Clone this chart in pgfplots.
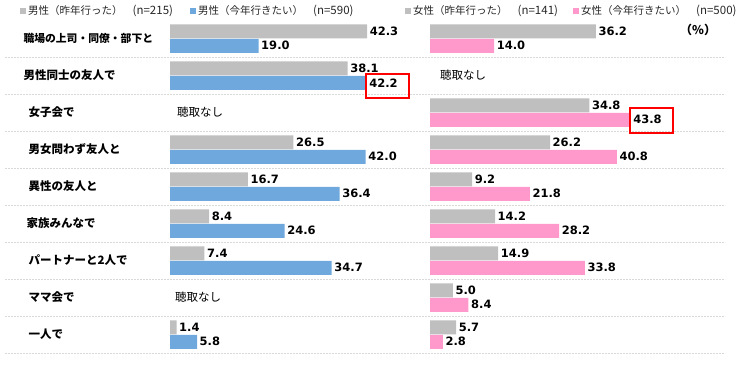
\documentclass[border=0pt]{standalone}
\usepackage{fontspec}
\setmainfont{Noto Sans CJK JP}
\newfontfamily\numfont{DejaVu Sans}
\usepackage{pgfplots}
\pgfplotsset{compat=1.18}
\definecolor{cgray}{HTML}{BFBFBF}
\definecolor{cblue}{HTML}{6FA8DC}
\definecolor{cpink}{HTML}{FF99CC}
\definecolor{csep}{HTML}{D9D9D9}
\pgfplotsset{panel/.style={hide axis, clip=false, xmin=0, xmax=55, ymin=0.5, ymax=9.5, y=37pt,
  anchor=south west, point meta=x,
  nodes near coords={\pgfmathprintnumber[fixed,fixed zerofill,precision=1,assume math mode=true]{\pgfplotspointmeta}},
  every node near coord/.append style={font=\numfont\bfseries\fontsize{11.5}{13}\selectfont, text=black, inner xsep=2.5pt}},
  top/.style={xbar, draw=none, bar width=14pt, bar shift=7.25pt, every node near coord/.append style={yshift=7.25pt}},
  bot/.style={xbar, draw=none, bar width=14pt, bar shift=-7.25pt, every node near coord/.append style={yshift=-7.25pt}}}
\newcommand\nn[1]{{\fontsize{11.5}{12}\selectfont #1}}
\begin{document}
\begin{tikzpicture}[x=1pt,y=1pt]
\path[use as bounding box] (0,0) rectangle (747,367);
% separators
\foreach \k in {0,...,8} {
  \draw[csep, line width=0.8pt, dash pattern=on 2pt off 1pt] (5,{310-37*\k}) -- (725,{310-37*\k});
}
% left panel
\begin{axis}[panel, at={(170pt,14pt)}, x=4.66pt]
\addplot[top, fill=cgray] coordinates {(42.3,9) (38.1,8) (26.5,6) (16.7,5) (8.4,4) (7.4,3) (1.4,1)};
\addplot[bot, fill=cblue] coordinates {(19.0,9) (42.2,8) (42.0,6) (36.4,5) (24.6,4) (34.7,3) (5.8,1)};
\end{axis}
% right panel
\begin{axis}[panel, at={(430pt,14pt)}, x=4.58pt]
\addplot[top, fill=cgray] coordinates {(36.2,9) (34.8,7) (26.2,6) (9.2,5) (14.2,4) (14.9,3) (5.0,2) (5.7,1)};
\addplot[bot, fill=cpink] coordinates {(14.0,9) (43.8,7) (40.8,6) (21.8,5) (28.2,4) (33.8,3) (8.4,2) (2.8,1)};
\end{axis}
% category labels
\node[anchor=west, font=\bfseries\fontsize{10.8}{12}\selectfont] at (20,328.5) {職場の上司・同僚・部下と};
\node[anchor=west, font=\bfseries\fontsize{11.5}{13}\selectfont] at (20,291.5) {男性同士の友人で};
\node[anchor=west, font=\bfseries\fontsize{11.5}{13}\selectfont] at (25,254.5) {女子会で};
\node[anchor=west, font=\bfseries\fontsize{11.5}{13}\selectfont] at (25,217.5) {男女問わず友人と};
\node[anchor=west, font=\bfseries\fontsize{11.5}{13}\selectfont] at (25,180.5) {異性の友人と};
\node[anchor=west, font=\bfseries\fontsize{11.5}{13}\selectfont] at (23,143.5) {家族みんなで};
\node[anchor=west, font=\bfseries\fontsize{11.5}{13}\selectfont] at (25,106.5) {パートナーと2人で};
\node[anchor=west, font=\bfseries\fontsize{11.5}{13}\selectfont] at (25,69.5) {ママ会で};
\node[anchor=west, font=\bfseries\fontsize{11.5}{13}\selectfont] at (25,32.5) {一人で};
% not asked
\node[anchor=west, font=\fontsize{11.5}{13}\selectfont, inner sep=0pt] at (177,254.5) {聴取なし};
\node[anchor=west, font=\fontsize{11.5}{13}\selectfont, inner sep=0pt] at (175,69.5) {聴取なし};
\node[anchor=west, font=\fontsize{11.5}{13}\selectfont, inner sep=0pt] at (440,291.5) {聴取なし};
% red boxes
\draw[red, line width=1.8pt] (366,269) rectangle (409,293);
\draw[red, line width=1.8pt] (630,234) rectangle (673,259);
% percent
\node[anchor=west, font=\bfseries\fontsize{12}{13}\selectfont, inner sep=0pt] at (680,337) {（\%）};
% legend
\fill[cgray] (20,353) rectangle (26,359);
\node[anchor=west, font=\fontsize{10.5}{12}\selectfont, text=black!85, inner sep=0pt] at (28,356) {男性（昨年行った）\hspace{10pt}\nn{(n=215)}};
\fill[cblue] (190,353) rectangle (196,359);
\node[anchor=west, font=\fontsize{10.5}{12}\selectfont, text=black!85, inner sep=0pt] at (198,356) {男性（今年行きたい）\hspace{10pt}\nn{(n=590)}};
\fill[cgray] (405,353) rectangle (411,359);
\node[anchor=west, font=\fontsize{10.5}{12}\selectfont, text=black!85, inner sep=0pt] at (413,356) {女性（昨年行った）\hspace{10pt}\nn{(n=141)}};
\fill[cpink] (573,353) rectangle (579,359);
\node[anchor=west, font=\fontsize{10.5}{12}\selectfont, text=black!85, inner sep=0pt] at (581,356) {女性（今年行きたい）\hspace{10pt}\nn{(n=500)}};
\end{tikzpicture}
\end{document}
